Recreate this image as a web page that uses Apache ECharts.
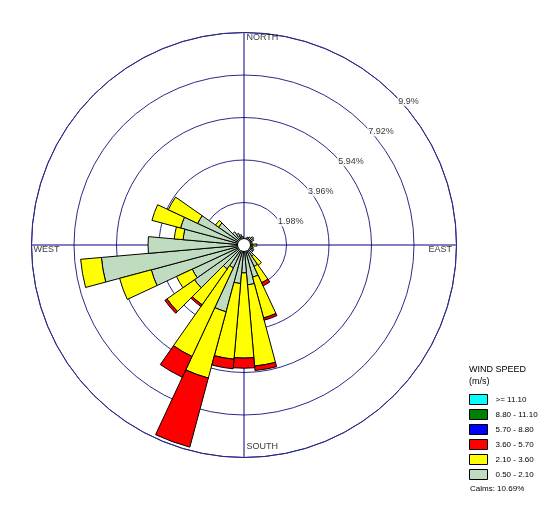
<!DOCTYPE html>
<html><head><meta charset="utf-8">
<script src="https://cdn.jsdelivr.net/npm/echarts@6/dist/echarts.min.js"></script>
<style>html,body{margin:0;padding:0;background:#fff}#c{width:557px;height:523px}</style>
</head><body><div id="c"></div>
<script>
// Directions (degrees, clockwise from north)
const directions = [0,10,20,30,40,50,60,70,80,90,100,110,120,130,140,150,160,170,180,190,200,210,220,230,240,250,260,270,280,290,300,310,320,330,340,350];
// Frequency (%) per speed class for each direction
const s050_210 = [0.30,0.30,0.35,0.40,0.45,0.55,0.50,0.35,0.40,0.35,0.40,0.45,0.50,0.50,0.63,1.10,1.55,1.86,1.30,1.80,3.22,1.17,1.36,2.82,2.66,4.47,6.67,4.47,2.85,3.06,2.38,1.45,0.75,0.60,0.50,0.40];
const s210_360 = [0,0,0,0,0,0,0,0,0,0.25,0,0,0,0,0.52,0.84,1.97,3.80,3.97,3.54,3.20,4.56,2.04,1.56,0.81,1.53,0.97,0,0.41,1.38,1.51,0.17,0,0,0,0];
const s360_570 = [0,0,0,0,0,0,0,0,0,0,0,0,0,0,0,0.16,0.11,0.21,0.47,0.45,3.33,1.07,0.10,0.12,0,0,0,0,0,0,0,0,0,0,0,0];
const s570_880 = [0,0,0,0,0,0,0,0,0,0,0,0,0,0,0,0,0,0,0,0,0,0,0,0,0,0,0,0,0,0,0,0,0,0,0,0];
const s880_1110 = [0,0,0,0,0,0,0,0,0,0,0,0,0,0,0,0,0,0,0,0,0,0,0,0,0,0,0,0,0,0,0,0,0,0,0,0];
const s1110 = [0,0,0,0,0,0,0,0,0,0,0,0,0,0,0,0,0,0,0,0,0,0,0,0,0,0,0,0,0,0,0,0,0,0,0,0];
const binNames = ['0.50 - 2.10','2.10 - 3.60','3.60 - 5.70','5.70 - 8.80','8.80 - 11.10','>= 11.10'];
const binColors = ['#C0DCC0','#FFFF00','#FF0000','#0000FF','#008000','#00FFFF'];
const ringValues = [1.98,3.96,5.94,7.92,9.9];
const ringLabels = ['1.98%','3.96%','5.94%','7.92%','9.9%'];
const compassNames = ['NORTH','EAST','SOUTH','WEST'];
const compassAngles = [0,90,180,270];
const legendTitle = 'WIND SPEED\n(m/s)';
const calmsText = 'Calms: 10.69%';

const binData = [s050_210,s210_360,s360_570,s570_880,s880_1110,s1110];
const FONT = "'Liberation Sans', Arial, sans-serif";
const CENTER = [244,245];
const RADIUS = 212.5;
const RMAX = ringValues[ringValues.length-1];

const barSeries = binNames.map((n,i)=>({
  name:n, type:'bar', coordinateSystem:'polar', polarIndex:0, stack:'w',
  barCategoryGap:'0%', barGap:'0%',
  itemStyle:{color:binColors[i], borderColor:'#000', borderWidth:1},
  emphasis:{disabled:true}, silent:true,
  data: binData[i].map(v=> v>0 ? v : '-')
}));

const compassLabelCfg = [
  {position:[3,1.5], align:'left', verticalAlign:'top'},
  {position:[-4,1], align:'right', verticalAlign:'top'},
  {position:[3,-5.5], align:'left', verticalAlign:'bottom'},
  {position:[2.5,1], align:'left', verticalAlign:'top'}
];

const option = {
  backgroundColor:'#fff',
  animation:false,
  textStyle:{fontFamily:FONT},
  title:[
    {text:legendTitle, left:469, top:364, padding:0,
     textStyle:{fontSize:9, fontWeight:'normal', color:'#000', lineHeight:12, fontFamily:FONT}},
    {text:calmsText, left:470, top:485, padding:0,
     textStyle:{fontSize:8, fontWeight:'normal', color:'#000', fontFamily:FONT}}
  ],
  legend:{
    orient:'vertical', left:469, top:394, padding:0,
    itemWidth:18, itemHeight:10, itemGap:4, selectedMode:false,
    icon:'rect',
    data: binNames.slice().reverse(),
    itemStyle:{borderColor:'#000', borderWidth:1},
    textStyle:{fontSize:8, color:'#000', fontFamily:FONT, padding:[0,0,0,3]}
  },
  polar:[
    {center:CENTER, radius:RADIUS},
    {center:CENTER, radius:RADIUS}
  ],
  angleAxis:[
    {polarIndex:0, type:'category', data:directions, startAngle:95, clockwise:true,
     boundaryGap:true, axisLine:{show:false}, axisTick:{show:false}, axisLabel:{show:false}, splitLine:{show:false}},
    {polarIndex:1, type:'value', min:0, max:360, interval:90, startAngle:90, clockwise:true,
     axisLine:{show:true, lineStyle:{color:'#2a2a88', width:1}}, axisTick:{show:false}, axisLabel:{show:false},
     splitLine:{show:true, lineStyle:{color:'#000080', width:1}}}
  ],
  radiusAxis:[
    {polarIndex:0, type:'value', min:0, max:RMAX, show:false, axisLine:{show:false}, axisLabel:{show:false}, splitLine:{show:false}},
    {polarIndex:1, type:'value', min:0, max:RMAX, interval:ringValues[0],
     axisLine:{show:false}, axisTick:{show:false}, axisLabel:{show:false},
     splitLine:{show:true, lineStyle:{color:'#2a2a88', width:1}}}
  ],
  series:[
    ...barSeries,
    {type:'pie', center:CENTER, radius:[0,6], silent:true, label:{show:false}, labelLine:{show:false},
     itemStyle:{color:'#fff', borderWidth:0}, data:[{value:1, name:'calm'}], legendHoverLink:false, z:5},
    {type:'scatter', coordinateSystem:'polar', polarIndex:1, symbolSize:1, silent:true,
     itemStyle:{color:'rgba(0,0,0,0)'}, z:6,
     data: ringValues.map((r,i)=>({value:[r,45], label:{formatter:ringLabels[i]}})),
     label:{show:true, position:[3.5,7.5], align:'left', verticalAlign:'middle', fontSize:9, color:'#000',
       fontFamily:FONT, backgroundColor:'#fff', padding:[0,1]}},
    {type:'scatter', coordinateSystem:'polar', polarIndex:1, symbolSize:1, silent:true,
     itemStyle:{color:'rgba(0,0,0,0)'}, z:6,
     data: compassNames.map((n,i)=>({value:[RMAX, compassAngles[i]],
       label:Object.assign({formatter:n}, compassLabelCfg[i])})),
     label:{show:true, fontSize:9, color:'#000', fontFamily:FONT}}
  ]
};
const chart = echarts.init(document.getElementById('c'), null, {renderer:'canvas'});
chart.setOption(option);
</script>
</body></html>
